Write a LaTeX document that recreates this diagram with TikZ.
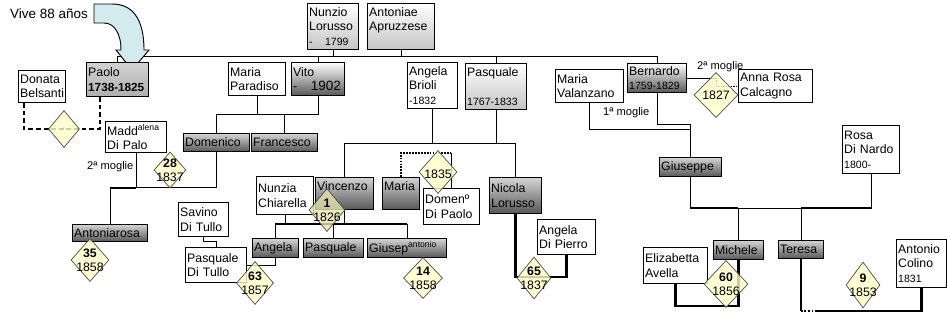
\documentclass[tikz,border=0pt]{standalone}
\usepackage{fontspec}
\setmainfont{Liberation Sans}
\usetikzlibrary{shapes.geometric,backgrounds}
\definecolor{FTWed}{HTML}{FFFFC8}
\definecolor{FTWedDark}{HTML}{E4E2AE}
\definecolor{FTArrow}{HTML}{D3EBEE}
\definecolor{FTDark}{HTML}{585858}
\definecolor{FTMid}{HTML}{D4D4D4}
\definecolor{FTLight}{HTML}{C4C4C4}

\newcommand{\datefont}{\fontsize{9}{10.5}\selectfont}
\newcommand{\famnode}[7]{%
  \pgfmathsetlengthmacro{\ftw}{(#5-#3)*0.03cm-3pt}%
  \pgfmathsetlengthmacro{\fth}{(#6-#4)*0.03cm}%
  \node[#2,text width=\ftw,minimum height=\fth,anchor=north west] (#1) at (#3,#4) {#7};}
\newcommand{\wed}[7][]{%
  \pgfmathsetlengthmacro{\fdw}{#5*0.03cm}%
  \pgfmathsetlengthmacro{\fdh}{#6*0.03cm}%
  \node[wedbox,minimum width=\fdw,minimum height=\fdh,#1] (#2) at (#3,#4) {};
  \node[wedtext] (#2t) at (#2.center) {#7};}

\tikzset{
  fambox/.style={draw,line width=0.8pt,inner xsep=1.5pt,inner ysep=0.8pt,align=left,
    font=\fontsize{10.5}{12.5}\selectfont},
  pbox/.style={fambox,fill=white},
  lbox/.style={fambox,top color=white,bottom color=FTLight},
  dbox/.style={fambox,top color=FTMid,bottom color=FTDark},
  wedbox/.style={diamond,draw=black!70,line width=0.6pt,fill=FTWed,fill opacity=.8,inner sep=0pt},
  wedtext/.style={align=center,inner sep=0pt,font=\fontsize{10.5}{12}\selectfont},
  tie/.style={line width=0.8pt},
  thicktie/.style={line width=2.4pt},
  marrydash/.style={line width=2.4pt,dash pattern=on 4pt off 2.5pt},
  note/.style={anchor=west,inner sep=0pt,font=\fontsize{9.5}{11}\selectfont}
}

\begin{document}
\begin{tikzpicture}[x=0.03cm,y=-0.03cm]
\path[use as bounding box] (0,0) rectangle (947,322);
\node[anchor=west,inner sep=0pt,font=\fontsize{11.5}{13}\selectfont] (vive) at (10,14) {Vive 88 años};
\draw[fill=FTArrow,line width=0.8pt] (94,4) -- (112,4) .. controls (132,4) and (144,18) .. (144,50)
  -- (149,50) -- (132,70) -- (116,50) -- (121,50) .. controls (121,33) and (114,23) .. (104,23) -- (94,23) -- cycle;

\famnode{nunzio}{lbox}{307}{3}{358}{49}{Nunzio\\Lorusso\\{\datefont -\ \ \ 1799}}
\famnode{antoniae}{lbox}{367}{3}{434}{49}{Antoniae\\Apruzzese\\\mbox{}}
\famnode{paolo}{dbox,top color=gray!35,bottom color=gray!62}{86}{62}{148}{96}{Paolo\\\mbox{\fontsize{10}{12}\selectfont\bfseries 1738-1825}}
\famnode{donata}{pbox}{18}{70}{65}{102}{Donata\\Belsanti}
\famnode{madd}{pbox}{105}{121}{166}{152}{Madd\textsuperscript{alena}\\Di Palo}
\famnode{mparadiso}{pbox}{228}{62}{285}{95}{Maria\\Paradiso}
\famnode{vito}{dbox,top color=white}{291}{62}{344}{95}{Vito\\-\hspace{1.1em}{\fontsize{11.5}{12}\selectfont 1902}}
\famnode{abrioli}{pbox}{407}{62}{457}{108}{Angela\\Brioli\\{\datefont -1832}}
\famnode{pasquale}{lbox}{465}{63}{526}{109}{Pasquale\\\mbox{}\\{\datefont 1767-1833}}
\famnode{mvalanzano}{pbox}{555}{69}{623}{102}{Maria\\Valanzano}
\famnode{bernardo}{dbox,top color=white}{627}{63}{686}{92}{Bernardo\\{\datefont 1759-1829}}
\famnode{annarosa}{pbox}{738}{69}{812}{102}{Anna Rosa\\Calcagno}
\famnode{domenico}{dbox}{183}{133}{249}{151}{Domenico}
\famnode{francesco}{dbox}{251}{133}{317}{151}{Francesco}
\famnode{antoniarosa}{dbox}{72}{224}{147}{241}{Antoniarosa}
\famnode{nunzia}{pbox}{256}{176}{313}{214}{Nunzia\\Chiarella}
\famnode{vincenzo}{dbox}{315}{177}{373}{209}{Vincenzo\\\mbox{}}
\famnode{maria}{dbox}{382}{177}{419}{209}{Maria\\\mbox{}}
\famnode{domen}{pbox}{423}{188}{479}{224}{Domenº\\Di Paolo}
\famnode{nicola}{dbox}{489}{177}{541}{213}{Nicola\\Lorusso}
\famnode{adipierro}{pbox}{537}{219}{595}{254}{Angela\\Di Pierro}
\famnode{savino}{pbox}{178}{202}{228}{236}{Savino\\Di Tullo}
\famnode{pdtullo}{pbox}{185}{247}{246}{282}{Pasquale\\Di Tullo}
\famnode{angela}{dbox}{252}{238}{298}{257}{Angela}
\famnode{pasqualeb}{dbox}{303}{238}{363}{257}{Pasquale}
\famnode{giusep}{dbox}{367}{238}{446}{257}{Giusep\textsuperscript{antonio}}
\famnode{giuseppe}{dbox}{659}{157}{721}{176}{Giuseppe}
\famnode{rosa}{pbox}{842}{125}{899}{173}{Rosa\\Di Nardo\\{\datefont 1800-}}
\famnode{michele}{dbox}{713}{240}{763}{259}{Michele}
\famnode{teresa}{dbox}{778}{240}{823}{258}{Teresa}
\famnode{elizabetta}{pbox}{643}{247}{707}{283}{Elizabetta\\Avella}
\famnode{antonio}{pbox}{896}{239}{946}{287}{Antonio\\Colino\\{\datefont 1831}}

\wed{w0}{64}{129}{31}{37}{}
\wed{w28}{170}{170}{32}{36}{\textbf{28}\\1837}
\wed{w35}{90}{260}{38}{43}{\textbf{35}\\1858}
\wed{w63}{255}{283}{37}{43}{\textbf{63}\\1857}
\wed[fill=FTWedDark]{w1}{327}{210}{36}{43}{\textbf{1}\\1826}
\wed{w14}{423}{278}{39}{41}{\textbf{14}\\1858}
\wed{w1835}{438}{172}{38}{43}{\mbox{}\\1835}
\wed{w65}{534}{278}{34}{42}{\textbf{65}\\1837}
\wed{w1827}{716}{95}{44}{45}{1827}
\wed{w60}{726}{284}{44}{47}{\textbf{60}\\1856}
\wed{w9}{863}{285}{34}{46}{\textbf{9}\\1853}

\node[note] (moglie2a) at (87,167) {2ª moglie};
\node[note] (moglie1) at (603,113) {1ª moglie};
\node[note] (moglie2b) at (697,67) {2ª moglie};
\coordinate (tgap) at (817,311);

\begin{scope}[on background layer,tie]
\draw (nunzio.south) -- (nunzio.south |- 0,56);
\draw (antoniae.south) -- (antoniae.south |- 0,56);
\draw (paolo.north) |- (bernardo.north |- 0,56) -- (bernardo.north);
\draw (vito.north) -- (vito.north |- 0,56);
\draw (pasquale.north) -- (pasquale.north |- 0,56);
\draw[marrydash] ([xshift=0.18cm]donata.south west) |- (w0.west) -- (w0.east) -| ([xshift=0.42cm]paolo.south west);
\draw (madd.south) |- (domenico.south |- 0,187) -- (domenico.south);
\draw (antoniarosa.north) -- (antoniarosa.north |- 0,188);
\draw[thicktie] (antoniarosa.north |- 0,188) -- (madd.south |- 0,188);
\draw (mparadiso.south) -- (mparadiso.south |- 0,114);
\draw (domenico.north) |- (vito.south |- 0,114) -- (vito.south);
\draw (francesco.north) -- (francesco.north |- 0,114);
\draw (abrioli.south) -- (abrioli.south |- 0,143);
\draw (pasquale.south) -- (pasquale.south |- 0,143);
\draw (vincenzo.north) |- (nicola.north |- 0,143) -- (nicola.north);
\draw[line width=1.8pt,dash pattern=on 1.5pt off 1pt] (maria.north) |- (domen.north |- 0,153);
\draw[line width=1.6pt] (domen.north |- 0,153) -- (domen.north);
\draw (nunzia.south) -- (nunzia.south |- 0,224);
\draw (vincenzo.south) -- (vincenzo.south |- 0,224);
\draw[thicktie] (angela.north |- 0,224) -- (giusep.north |- 0,224);
\draw (angela.north) -- (angela.north |- 0,224);
\draw (pasqualeb.north) -- (pasqualeb.north |- 0,224);
\draw (giusep.north) -- (giusep.north |- 0,224);
\draw (savino.south) |- (pdtullo.north |- 0,241) -- (pdtullo.north);
\draw (angela.south) |- (pdtullo.east);
\draw[thicktie] (nicola.south) |- (adipierro.south |- 0,277) -- (adipierro.south);
\draw (bernardo.south) |- (giuseppe.north |- 0,124) -- (giuseppe.north);
\draw (mvalanzano.south) |- (giuseppe.north |- 0,129);
\draw (bernardo.east) -- (w1827.north |- bernardo.east);
\draw[densely dotted] (w1827.north |- bernardo.east) |- (annarosa.west);
\draw (giuseppe.south) |- (rosa.south |- 0,208) -- (rosa.south);
\draw[thicktie] (giuseppe.south |- 0,208) -- (michele.north |- 0,208);
\draw[thicktie] (teresa.north |- 0,208) -- (rosa.south |- 0,208);
\draw (michele.north) -- (michele.north |- 0,208);
\draw (teresa.north) -- (teresa.north |- 0,208);
\draw[thicktie] (elizabetta.south) |- (michele.south |- 0,306) -- (michele.south);
\draw[thicktie] (teresa.south) -- (teresa.south |- tgap);
\draw[line width=2.4pt,dash pattern=on 1.5pt off 1.5pt] (teresa.south |- tgap) -- (tgap);
\draw[thicktie] (tgap) -| (antonio.south);
\end{scope}
\end{tikzpicture}
\end{document}
